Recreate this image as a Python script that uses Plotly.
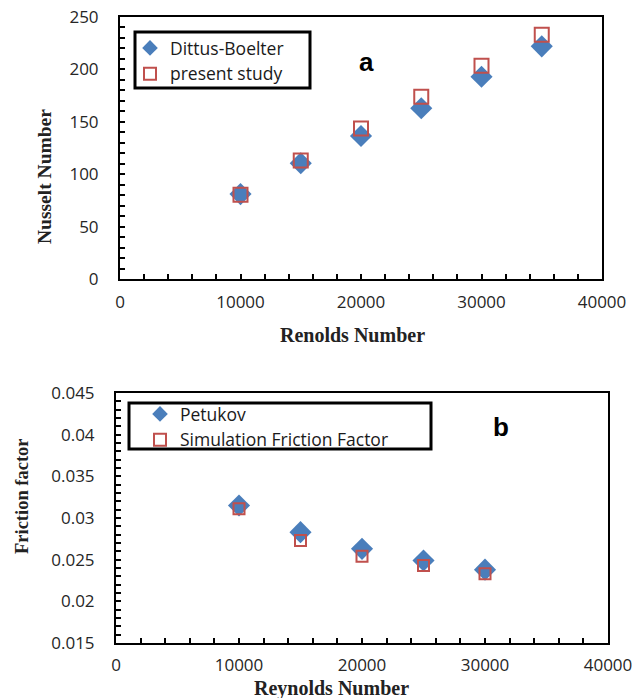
import plotly.graph_objects as go

# Data
re_a = [10000, 15000, 20000, 25000, 30000, 35000]
nu_dittus = [81, 110.5, 136.5, 163, 193, 222]
nu_present = [80.5, 113, 143.5, 174, 203.5, 233]

re_b = [10000, 15000, 20000, 25000, 30000]
f_petukov = [0.0315, 0.0283, 0.0263, 0.0249, 0.0238]
f_sim = [0.0311, 0.0273, 0.0254, 0.0243, 0.0233]

W, H = 633, 698
BLUE = "#4a7ebb"
RED = "#c0504d"

def px(x):
    return x / W

def py(y):
    return 1 - y / H

fig = go.Figure()

fig.add_trace(go.Scatter(x=re_a, y=nu_dittus, mode="markers", name="Dittus-Boelter",
                         marker=dict(symbol="diamond", size=17, color=BLUE),
                         xaxis="x", yaxis="y", legend="legend"))
fig.add_trace(go.Scatter(x=re_a, y=nu_present, mode="markers", name="present study",
                         marker=dict(symbol="square-open", size=14, color=RED, line=dict(width=2, color=RED)),
                         xaxis="x", yaxis="y", legend="legend"))
fig.add_trace(go.Scatter(x=re_b, y=f_petukov, mode="markers", name="Petukov",
                         marker=dict(symbol="diamond", size=17, color=BLUE),
                         xaxis="x2", yaxis="y2", legend="legend2"))
fig.add_trace(go.Scatter(x=re_b, y=f_sim, mode="markers", name="Simulation Friction Factor",
                         marker=dict(symbol="square-open", size=11, color=RED, line=dict(width=2, color=RED)),
                         xaxis="x2", yaxis="y2", legend="legend2"))

tickfont = dict(family="Open Sans", size=17, color="#262626")
legfont = dict(family="Open Sans", size=17.5, color="#1a1a1a")

def tfont(size):
    return dict(family="Liberation Serif", size=size, color="#222222", weight="bold")

common = dict(showline=True, linecolor="black", linewidth=2, mirror=True,
              ticks="inside", ticklen=5, tickwidth=2, tickcolor="black",
              showgrid=False, zeroline=False, tickfont=tickfont, automargin=False)
minor_x = dict(ticks="inside", dtick=2000, ticklen=5, tickwidth=2, tickcolor="black")

fig.update_layout(
    width=W, height=H, margin=dict(l=0, r=0, t=0, b=0, autoexpand=False),
    paper_bgcolor="white", plot_bgcolor="white",
    xaxis=dict(domain=[px(120), px(602)], range=[0, 40000], dtick=10000, anchor="y",
               tickformat="d", ticklabelstandoff=7, minor=minor_x, **common),
    yaxis=dict(domain=[py(279), py(17)], range=[0, 250], dtick=50, anchor="x",
               ticklabelstandoff=16,
               minor=dict(ticks="inside", dtick=10, ticklen=5, tickwidth=2, tickcolor="black"),
               **common),
    xaxis2=dict(domain=[px(116), px(608)], range=[0, 40000], dtick=10000, anchor="y2",
                tickformat="d", ticklabelstandoff=6, minor=minor_x, **common),
    yaxis2=dict(domain=[py(643), py(393)], range=[0.015, 0.045], dtick=0.005, anchor="x2",
                ticklabelstandoff=16,
                minor=dict(ticks="inside", dtick=0.001, ticklen=5, tickwidth=2, tickcolor="black"),
                **common),
    legend=dict(x=px(130), y=py(30), xanchor="left", yanchor="top",
                bgcolor="rgba(0,0,0,0)", borderwidth=0, font=legfont,
                itemwidth=30, itemsizing="constant"),
    legend2=dict(x=px(140), y=py(396), xanchor="left", yanchor="top",
                 bgcolor="rgba(0,0,0,0)", borderwidth=0, font=legfont,
                 itemwidth=30, itemsizing="constant"),
    showlegend=True,
    shapes=[
        dict(type="rect", xref="paper", yref="paper", x0=px(135), x1=px(310), y0=py(88), y1=py(32),
             line=dict(color="black", width=3)),
        dict(type="rect", xref="paper", yref="paper", x0=px(129), x1=px(431), y0=py(449), y1=py(403),
             line=dict(color="black", width=3)),
    ],
    annotations=[
        dict(text="<b>a</b>", x=px(366), y=py(62), xref="paper", yref="paper", showarrow=False,
             xanchor="center", yanchor="middle",
             font=dict(family="Liberation Sans", size=26, color="black")),
        dict(text="<b>b</b>", x=px(501), y=py(427), xref="paper", yref="paper", showarrow=False,
             xanchor="center", yanchor="middle",
             font=dict(family="Liberation Sans", size=26, color="black")),
        dict(text="Renolds Number", x=px(352), y=py(335), xref="paper", yref="paper", showarrow=False,
             xanchor="center", yanchor="middle", font=tfont(20)),
        dict(text="Nusselt Number", x=px(44), y=py(177), xref="paper", yref="paper", showarrow=False,
             xanchor="center", yanchor="middle", textangle=-90, font=tfont(19.5)),
        dict(text="Reynolds Number", x=px(331), y=py(688), xref="paper", yref="paper", showarrow=False,
             xanchor="center", yanchor="middle", font=tfont(20)),
        dict(text="Friction factor", x=px(22), y=py(496), xref="paper", yref="paper", showarrow=False,
             xanchor="center", yanchor="middle", textangle=-90, font=tfont(18.5)),
    ],
)

fig.write_html("out.html")
